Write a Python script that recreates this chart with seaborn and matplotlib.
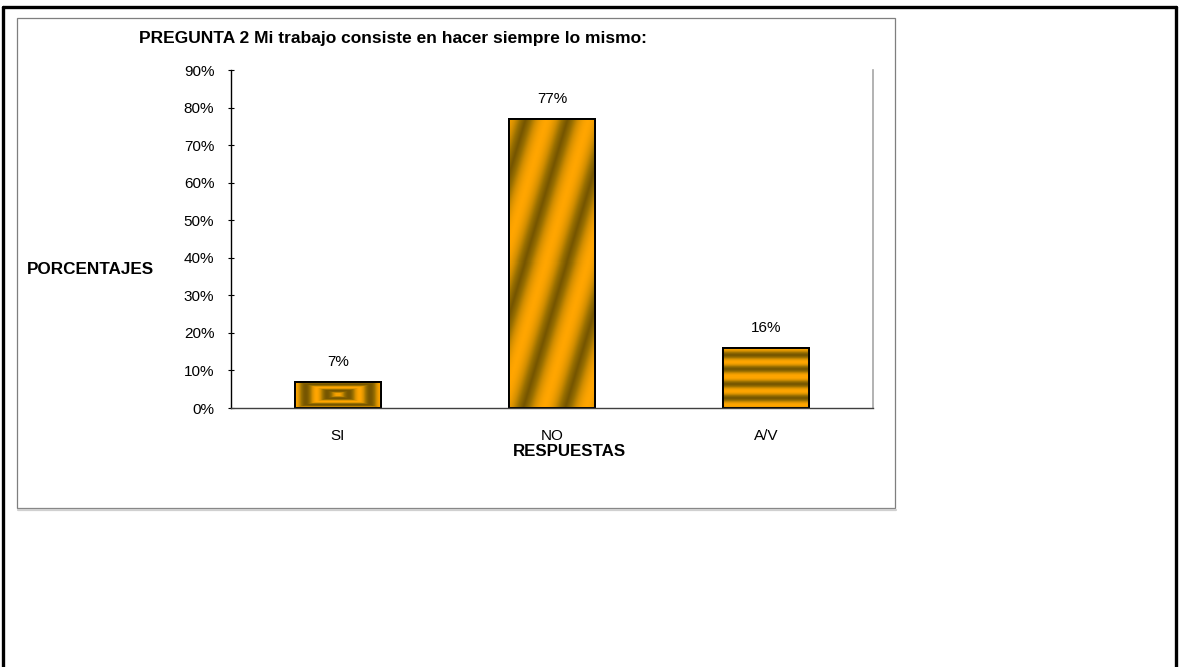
import numpy as np
import matplotlib
matplotlib.use("Agg")
import matplotlib.pyplot as plt
from matplotlib.colors import LinearSegmentedColormap
from matplotlib.patches import Rectangle
from matplotlib.lines import Line2D
import seaborn as sns
import pandas as pd

# Survey data
categorias = ["SI", "NO", "A/V"]
porcentajes = [7, 77, 16]
y_ticks = [0, 10, 20, 30, 40, 50, 60, 70, 80, 90]
titulo = "PREGUNTA 2 Mi trabajo consiste en hacer siempre lo mismo:"
etiqueta_y = "PORCENTAJES"
etiqueta_x = "RESPUESTAS"

sns.set_theme(style="white")
plt.rcParams["font.family"] = ["Liberation Sans", "DejaVu Sans"]
for key in ("text.color", "axes.labelcolor", "xtick.color", "ytick.color"):
    plt.rcParams[key] = "black"

W, H = 1181, 667
fig = plt.figure(figsize=(W / 100, H / 100), dpi=100)
fig.patch.set_facecolor("white")

def fx(px):
    return px / W

def fy(py):
    return 1 - py / H

# outer page border (left, top, right)
fig.add_artist(Line2D([fx(3), fx(3)], [0, fy(7)], color="black", lw=2.4))
fig.add_artist(Line2D([fx(3), fx(1176)], [fy(7), fy(7)], color="black", lw=2.4))
fig.add_artist(Line2D([fx(1176), fx(1176)], [fy(7), 0], color="black", lw=2.4))
# chart area frame with a soft shadow
fig.add_artist(Line2D([fx(18), fx(896)], [fy(510), fy(510)], color="#d0d0d0", lw=1.6))
fig.add_artist(Rectangle((fx(17), fy(508)), fx(895) - fx(17), fy(18) - fy(508),
                         fill=False, edgecolor="#7f7f7f", lw=0.9))

ax = fig.add_axes([fx(231), fy(408), fx(873) - fx(231), fy(70) - fy(408)])
df = pd.DataFrame({"respuesta": categorias, "porcentaje": porcentajes})
sns.barplot(data=df, x="respuesta", y="porcentaje", color="#FFA500",
            width=0.4, edgecolor="black", linewidth=1.4, saturation=1, ax=ax)

ax.set_ylim(0, 90)
ax.set_yticks(y_ticks)
ax.set_yticklabels([f"{t}%" for t in y_ticks])
ax.tick_params(axis="y", labelsize=11, pad=10, direction="inout", length=4,
               width=0.8, color="black", left=True)
ax.tick_params(axis="x", labelsize=11, pad=15, length=0)
ax.set_xlabel("")
ax.set_ylabel("")
ax.spines["top"].set_visible(False)
ax.spines["left"].set_color("black")
ax.spines["left"].set_linewidth(1.0)
ax.spines["bottom"].set_color("#404040")
ax.spines["bottom"].set_linewidth(1.0)
ax.spines["right"].set_color("#a6a6a6")
ax.spines["right"].set_linewidth(1.2)
ax.set_facecolor("white")
ax.set_xlim(-0.5, len(categorias) - 0.5)

# gradient fills for the bars
cmap = LinearSegmentedColormap.from_list(
    "oro", ["#765600", "#9a7000", "#d28e00", "#FFA500"])
fig.canvas.draw()
barras = list(ax.patches)
for i, patch in enumerate(barras):
    x0, y0 = patch.get_x(), patch.get_y()
    w, h = patch.get_width(), patch.get_height()
    bb = patch.get_window_extent()
    npx, npy = max(int(round(bb.width)), 2), max(int(round(bb.height)), 2)
    u = np.arange(npx, dtype=float)[None, :] + 0.5
    v = np.arange(npy, dtype=float)[:, None] + 0.5
    u = np.repeat(u, npy, axis=0)
    v = np.repeat(v, npx, axis=1)
    if i == 0:
        dx = np.abs(u - npx / 2) / (npx / 2)
        dy = np.abs(v - npy / 2) / (npy / 2)
        d = np.maximum(dx, dy)
        val = 0.5 + 0.5 * np.cos(2 * np.pi * d * 2.0)
    elif i == 1:
        s = u - 0.3 * v
        val = (0.5 + 0.5 * np.cos(2 * np.pi * s / 42.0 + 1.0)) ** 0.6
    else:
        val = (0.5 + 0.5 * np.cos(2 * np.pi * (v - 3) / 14.0)) ** 0.8
    im = ax.imshow(val, cmap=cmap, vmin=0, vmax=1, origin="lower",
                   extent=[x0, x0 + w, y0, y0 + h], aspect="auto",
                   interpolation="nearest", zorder=patch.get_zorder() + 0.1)
    im.set_clip_path(patch)
    edge = Rectangle((x0, y0), w, h, fill=False, edgecolor="black", lw=1.4,
                     zorder=patch.get_zorder() + 0.2)
    ax.add_patch(edge)
ax.set_xlim(-0.5, len(categorias) - 0.5)
ax.set_ylim(0, 90)

for i, val in enumerate(porcentajes):
    ax.annotate(f"{val}%", (i, val), xytext=(0, 9), textcoords="offset points",
                ha="center", va="bottom", fontsize=11, color="black")

fig.text(fx(393), fy(39), titulo, ha="center", va="center", fontsize=12.5,
         fontweight="bold")
fig.text(fx(27), fy(270), etiqueta_y, ha="left", va="center", fontsize=12.3,
         fontweight="bold")
fig.text(fx(569), fy(452), etiqueta_x, ha="center", va="center", fontsize=12.2,
         fontweight="bold")

fig.savefig("out.png", dpi=100, facecolor="white")
